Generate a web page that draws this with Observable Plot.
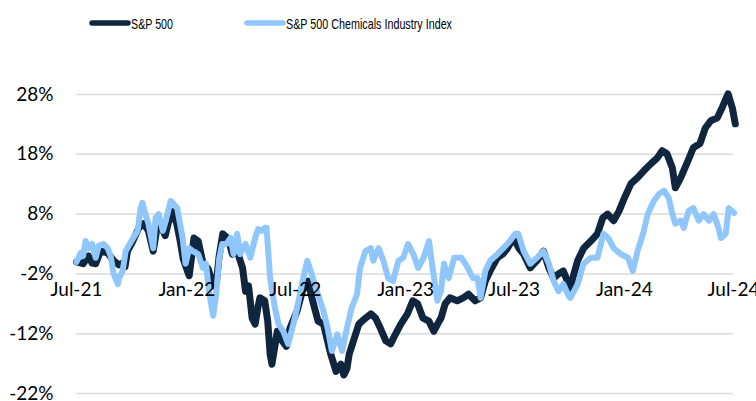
<!DOCTYPE html>
<html><head><meta charset="utf-8">
<script src="https://cdn.jsdelivr.net/npm/d3@7"></script>
<script src="https://cdn.jsdelivr.net/npm/@observablehq/plot@0.6"></script>
<style>body{margin:0;background:#fff;overflow:hidden} svg{display:block}</style>
</head><body><div id="legend"></div><div id="chart"></div>
<script>
const seriesNames = ["S&P 500", "S&P 500 Chemicals Industry Index"];
const seriesColors = ["#10263f", "#8fc6fb"];
const yTicks = [-22, -12, -2, 8, 18, 28];
const xTickDates = ["2021-07-01","2022-01-01","2022-07-01","2023-01-01","2023-07-01","2024-01-01","2024-07-01"];
const xTickLabels = ["Jul-21","Jan-22","Jul-22","Jan-23","Jul-23","Jan-24","Jul-24"];

const spDates = ["2021-07-01","2021-07-12","2021-07-21","2021-07-27","2021-08-02","2021-08-10","2021-08-22","2021-09-01","2021-09-10","2021-09-16","2021-09-20","2021-09-24","2021-10-03","2021-10-13","2021-10-21","2021-10-29","2021-11-06","2021-11-12","2021-11-19","2021-11-26","2021-12-01","2021-12-08","2021-12-15","2021-12-21","2021-12-26","2022-01-02","2022-01-05","2022-01-13","2022-01-20","2022-01-28","2022-02-06","2022-02-14","2022-02-19","2022-02-24","2022-03-02","2022-03-11","2022-03-18","2022-03-26","2022-04-04","2022-04-09","2022-04-14","2022-04-20","2022-04-25","2022-04-30","2022-05-03","2022-05-11","2022-05-16","2022-05-20","2022-05-23","2022-06-01","2022-06-09","2022-06-16","2022-06-22","2022-07-04","2022-07-14","2022-07-22","2022-07-30","2022-08-08","2022-08-17","2022-08-29","2022-09-07","2022-09-15","2022-09-20","2022-09-25","2022-09-29","2022-10-06","2022-10-15","2022-10-26","2022-11-04","2022-11-12","2022-11-20","2022-11-29","2022-12-07","2022-12-15","2022-12-24","2023-01-04","2023-01-13","2023-01-21","2023-01-30","2023-02-09","2023-02-17","2023-02-26","2023-03-01","2023-03-08","2023-03-16","2023-03-28","2023-04-07","2023-04-16","2023-04-27","2023-05-06","2023-05-14","2023-05-22","2023-06-03","2023-06-12","2023-06-20","2023-06-30","2023-07-09","2023-07-17","2023-07-28","2023-08-08","2023-08-19","2023-08-28","2023-09-05","2023-09-13","2023-09-21","2023-09-28","2023-10-03","2023-10-08","2023-10-15","2023-10-25","2023-11-06","2023-11-17","2023-11-26","2023-12-04","2023-12-14","2023-12-23","2024-01-01","2024-01-12","2024-01-23","2024-02-02","2024-02-14","2024-02-25","2024-03-04","2024-03-12","2024-03-21","2024-03-26","2024-04-04","2024-04-16","2024-04-25","2024-05-06","2024-05-15","2024-05-24","2024-06-04","2024-06-12","2024-06-22","2024-06-29","2024-07-04"];
const spValues = [0,-0.3,1.0,-0.2,-0.3,1.8,1.5,0.2,-0.5,-0.2,-0.8,1.8,3.5,5.7,6.4,5.2,1.8,5.5,6.0,4.4,6.5,8.4,6.5,3.5,0.5,-1.5,-2.3,4.0,3.5,-0.2,-1.2,-4.0,-3.7,1.0,4.7,3.9,1.3,1.8,-1.0,-4.9,-4.0,-9.4,-10.4,-7.4,-6.0,-6.5,-9.9,-15.4,-17.1,-11.6,-13.2,-14.1,-11.1,-8.2,-4.4,-3.2,-6.5,-9.9,-10.4,-15.4,-18.3,-17.1,-18.9,-17.9,-15.4,-13.2,-10.4,-9.4,-8.7,-9.4,-11.1,-13.2,-13.7,-12.1,-10.4,-8.7,-6.5,-7.0,-9.4,-9.9,-11.6,-9.9,-9.4,-7.0,-6.0,-6.5,-6.0,-5.4,-6.5,-6.0,-3.2,-1.5,0.7,1.3,2.3,4.0,2.3,1.3,-1.0,0.2,1.8,-1.0,-2.7,-2.0,-1.5,-3.2,-4.4,-2.3,0.2,2.3,3.5,4.7,7.4,8.0,6.9,8.5,10.7,13.1,14.1,15.2,16.4,17.4,18.6,18.1,15.7,12.4,14.1,16.9,19.1,19.8,22.4,23.6,24.1,25.8,28.1,25.8,23.1];

const chemDates = ["2021-07-01","2021-07-08","2021-07-12","2021-07-16","2021-07-21","2021-07-27","2021-08-02","2021-08-07","2021-08-15","2021-08-22","2021-08-27","2021-09-01","2021-09-08","2021-09-10","2021-09-16","2021-09-21","2021-09-26","2021-10-03","2021-10-11","2021-10-16","2021-10-19","2021-10-24","2021-10-29","2021-11-06","2021-11-10","2021-11-15","2021-11-22","2021-11-27","2021-12-05","2021-12-10","2021-12-16","2021-12-25","2021-12-30","2022-01-05","2022-01-11","2022-01-20","2022-01-28","2022-02-02","2022-02-07","2022-02-14","2022-02-19","2022-02-24","2022-03-01","2022-03-08","2022-03-15","2022-03-20","2022-03-26","2022-03-31","2022-04-09","2022-04-17","2022-04-25","2022-04-30","2022-05-06","2022-05-11","2022-05-14","2022-05-20","2022-05-28","2022-06-03","2022-06-11","2022-06-19","2022-06-26","2022-07-04","2022-07-12","2022-07-21","2022-07-25","2022-08-06","2022-08-17","2022-08-24","2022-08-31","2022-09-09","2022-09-17","2022-09-25","2022-10-03","2022-10-12","2022-10-17","2022-10-26","2022-11-04","2022-11-08","2022-11-17","2022-11-25","2022-12-03","2022-12-11","2022-12-20","2022-12-28","2023-01-05","2023-01-14","2023-01-22","2023-01-31","2023-02-09","2023-02-15","2023-02-23","2023-03-01","2023-03-06","2023-03-14","2023-03-23","2023-04-04","2023-04-15","2023-04-23","2023-05-01","2023-05-06","2023-05-14","2023-05-22","2023-06-03","2023-06-13","2023-06-24","2023-07-03","2023-07-08","2023-07-17","2023-07-28","2023-08-08","2023-08-19","2023-08-28","2023-09-05","2023-09-13","2023-09-21","2023-09-30","2023-10-03","2023-10-15","2023-10-25","2023-11-06","2023-11-17","2023-11-27","2023-12-05","2023-12-14","2023-12-26","2024-01-07","2024-01-15","2024-01-23","2024-02-01","2024-02-09","2024-02-19","2024-02-28","2024-03-07","2024-03-15","2024-03-21","2024-03-26","2024-04-04","2024-04-09","2024-04-17","2024-04-25","2024-05-04","2024-05-12","2024-05-21","2024-05-29","2024-06-06","2024-06-10","2024-06-18","2024-06-23","2024-07-02"];
const chemValues = [0,1.5,1.0,3.5,2.3,3.0,0.7,2.7,3.0,2.3,1.0,-2.0,-3.7,-2.7,-1.5,1.8,2.7,3.9,5.2,9.0,9.9,8.0,6.4,2.3,7.4,8.0,5.2,6.9,10.2,9.7,9.0,4.0,-0.3,2.3,1.8,1.3,-1.0,-0.3,-4.9,-9.0,-5.4,0.5,3.0,3.0,4.0,1.3,4.7,1.3,3.0,0.7,4.0,5.5,5.2,5.7,5.7,-2.7,-7.7,-10.4,-11.6,-13.7,-11.1,-7.7,-3.7,0.2,-1.0,-4.9,-8.2,-11.1,-14.9,-12.1,-14.9,-11.1,-7.7,-5.4,-1.0,1.8,2.3,0.2,2.3,0.2,-2.7,-3.2,0.2,0.7,3.0,1.3,-1.0,0.7,3.5,-1.0,-6.5,-4.9,-0.3,-2.7,0.7,0.7,-1.0,-2.7,-2.7,-6.0,-1.5,0.2,1.3,2.3,3.5,4.7,4.7,1.8,-0.3,0.7,1.8,-0.3,-3.2,-4.9,-3.7,-5.7,-6.0,-3.7,-0.3,0.7,0.7,4.7,4.0,2.3,1.3,0.7,-1.5,1.8,4.7,8.0,10.2,11.4,11.9,10.7,8.0,6.4,6.9,5.7,8.5,9.0,6.9,8.0,6.9,8.0,5.7,4.0,4.7,9.0,8.2];

const parse = d3.utcParse("%Y-%m-%d");
const sp = spDates.map((d, i) => ({date: parse(d), value: spValues[i]}));
const chem = chemDates.map((d, i) => ({date: parse(d), value: chemValues[i]}));
const xTicks = xTickDates.map((d, i) => ({date: parse(d), label: xTickLabels[i]}));

// Legend
const lg = d3.select("#legend").append("svg").attr("width", 756).attr("height", 50);
const legendItems = [
  {x1: 92, x2: 128, tx: 131, tw: 42},
  {x1: 247, x2: 283, tx: 286, tw: 166}
];
legendItems.forEach((it, i) => {
  lg.append("line").attr("x1", it.x1).attr("x2", it.x2).attr("y1", 23).attr("y2", 23)
    .attr("stroke", seriesColors[i]).attr("stroke-width", 5.5).attr("stroke-linecap", "round");
  lg.append("text").attr("x", it.tx).attr("y", 28.5).text(seriesNames[i])
    .attr("font-family", "Liberation Sans, Arial, sans-serif").attr("font-size", 15)
    .attr("textLength", it.tw).attr("lengthAdjust", "spacingAndGlyphs").attr("fill", "#000");
});

const chart = Plot.plot({
  width: 756, height: 351,
  marginLeft: 76, marginRight: 23, marginTop: 44, marginBottom: 8,
  x: {type: "utc", domain: [parse("2021-07-01"), parse("2024-07-01")], axis: null},
  y: {domain: [-22, 28], axis: null},
  style: {fontFamily: "Lato, 'Open Sans', sans-serif", background: "white", overflow: "visible"},
  marks: [
    Plot.gridY(yTicks, {stroke: "#d9d9d9", strokeOpacity: 1, strokeWidth: 1.5}),
    Plot.axisY(yTicks, {tickSize: 0, tickPadding: 23, tickFormat: d => d + "%", fontSize: 19, fill: "#000", label: null}),
    Plot.line(sp, {x: "date", y: "value", stroke: seriesColors[0], strokeWidth: 7}),
    Plot.line(chem, {x: "date", y: "value", stroke: seriesColors[1], strokeWidth: 6}),
    Plot.text(xTicks, {x: "date", y: () => -2, text: "label", dy: 16, fontSize: 19, fill: "#000"})
  ]
});
document.getElementById("chart").appendChild(chart);
</script>
</body></html>
